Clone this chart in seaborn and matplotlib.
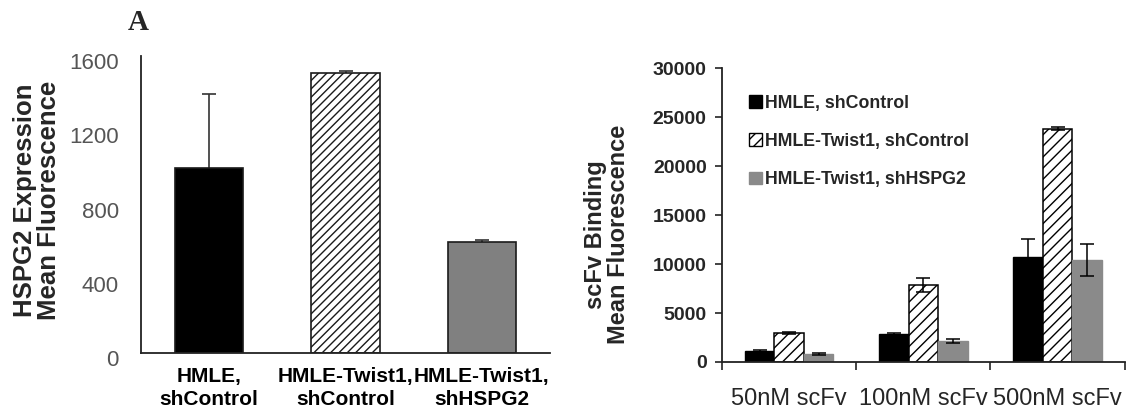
"""Panel A: HSPG2 expression and scFv binding bar charts."""

import numpy as np
import pandas as pd
import matplotlib
matplotlib.use("Agg")
import matplotlib.pyplot as plt
import matplotlib.transforms as mtransforms
from matplotlib.patches import Patch
from matplotlib.ticker import FixedLocator
import seaborn as sns

# left panel data
cell_lines = ["HMLE,\nshControl", "HMLE-Twist1,\nshControl", "HMLE-Twist1,\nshHSPG2"]
hspg2_mean = [995, 1510, 600]
hspg2_err = [400, 10, 10]

# right panel data
doses = ["50nM scFv", "100nM scFv", "500nM scFv"]
groups = ["HMLE, shControl", "HMLE-Twist1, shControl", "HMLE-Twist1, shHSPG2"]
binding_hmle = [1150, 2850, 10750]
binding_twist = [2950, 7850, 23800]
binding_shhspg2 = [800, 2100, 10400]
err_hmle = [80, 80, 1850]
err_twist = [80, 700, 150]
err_shhspg2 = [80, 200, 1620]

sns.set_style("white")
plt.rcParams["font.family"] = ["Liberation Sans", "DejaVu Sans"]
plt.rcParams["hatch.linewidth"] = 1.0

fig = plt.figure(figsize=(11.28, 4.18), dpi=100)

# ---------------- left panel ----------------
ax1 = fig.add_axes([0.125, 0.1555, 0.3626, 0.7105])
left_colors = ["black", "white", "#808080"]
sns.barplot(x=cell_lines, y=hspg2_mean, hue=cell_lines, palette=left_colors,
            width=0.5, edgecolor="#1a1a1a", linewidth=1.2, legend=False,
            errorbar=None, ax=ax1)
bars = list(ax1.patches)
bars[1].set_hatch("////")
for bar, m, e in zip(bars, hspg2_mean, hspg2_err):
    # drawn under the bars so only the upper whisker shows
    ax1.errorbar(bar.get_x() + bar.get_width() / 2, m, yerr=e, fmt="none",
                 ecolor="#333333", elinewidth=1.2, capsize=5, capthick=1.2,
                 zorder=0.5)

ax1.set_xlim(-0.5, 2.5)
ax1.set_ylim(0, 1600)
ax1.set_yticks([0, 400, 800, 1200, 1600])
ax1.tick_params(axis="y", length=0, pad=16, labelsize=16, labelcolor="#555555")
ax1.tick_params(axis="x", length=0, pad=10, labelsize=15, labelcolor="black")
for lab in ax1.get_xticklabels():
    lab.set_fontweight("bold")
    lab.set_linespacing(1.3)
shift = mtransforms.ScaledTranslation(0, -5 / 100, fig.dpi_scale_trans)
for lab in ax1.get_yticklabels():
    lab.set_transform(lab.get_transform() + shift)
ax1.set_ylabel("HSPG2 Expression\nMean Fluorescence", fontsize=18.5,
               fontweight="bold", linespacing=1.0)
ax1.yaxis.set_label_coords(-0.195, 0.515)
sns.despine(ax=ax1)
for sp in ["left", "bottom"]:
    ax1.spines[sp].set_color("#222222")
    ax1.spines[sp].set_linewidth(1.3)

fig.text(0.123, 0.947, "A", fontsize=21, fontweight="bold",
         family=["Liberation Serif", "DejaVu Serif"], ha="center", va="center")

# ---------------- right panel ----------------
ax2 = fig.add_axes([0.64, 0.134, 0.357, 0.703])
df = pd.DataFrame({
    "dose": doses * 3,
    "group": [g for g in groups for _ in doses],
    "value": binding_hmle + binding_twist + binding_shhspg2,
})
right_colors = ["black", "white", "#8a8a8a"]
sns.barplot(data=df, x="dose", y="value", hue="group", hue_order=groups,
            order=doses, palette=right_colors, width=0.66, errorbar=None,
            legend=False, ax=ax2)
bar_containers = list(ax2.containers)
errs = [err_hmle, err_twist, err_shhspg2]
means = [binding_hmle, binding_twist, binding_shhspg2]
for i, cont in enumerate(bar_containers):
    for bar, m, e in zip(cont, means[i], errs[i]):
        if i == 0:
            bar.set_edgecolor("black")
        elif i == 1:
            bar.set_hatch("///")
            bar.set_edgecolor("black")
            bar.set_linewidth(1.1)
        else:
            bar.set_edgecolor("#8a8a8a")
        ax2.errorbar(bar.get_x() + bar.get_width() / 2, m, yerr=e, fmt="none",
                     ecolor="black", elinewidth=1.1, capsize=5, capthick=1.1)

ax2.set_xlim(-0.5, 2.5)
ax2.set_ylim(0, 30000)
ax2.set_yticks(np.arange(0, 30001, 5000))
ax2.xaxis.set_minor_locator(FixedLocator([-0.5, 0.5, 1.5, 2.5]))
ax2.tick_params(axis="x", which="major", length=0, pad=19, labelsize=17,
                labelcolor="#262626")
ax2.tick_params(axis="x", which="minor", length=6, width=1.2, direction="out",
                color="#222222", bottom=True)
ax2.tick_params(axis="y", length=5, width=1.2, direction="out", left=True,
                color="#222222", pad=6, labelsize=14, labelcolor="#262626")
for lab in ax2.get_yticklabels():
    lab.set_fontweight("bold")
ax2.set_xlabel("")
ax2.set_ylabel("scFv Binding\nMean Fluorescence", fontsize=17,
               fontweight="bold", linespacing=1.0)
ax2.yaxis.set_label_coords(-0.228, 0.435)
sns.despine(ax=ax2)
for sp in ["left", "bottom"]:
    ax2.spines[sp].set_color("#222222")
    ax2.spines[sp].set_linewidth(1.3)

handles = [Patch(facecolor="black", edgecolor="black"),
           Patch(facecolor="white", edgecolor="black", hatch="///"),
           Patch(facecolor="#8a8a8a", edgecolor="#8a8a8a")]
leg = ax2.legend(handles, groups, loc="upper left", bbox_to_anchor=(0.045, 0.94),
                 frameon=False, borderpad=0, handlelength=0.72, handleheight=0.72,
                 handletextpad=0.2, labelspacing=1.2,
                 prop={"size": 12.8, "weight": "bold"})

fig.savefig("out.png", dpi=100)
